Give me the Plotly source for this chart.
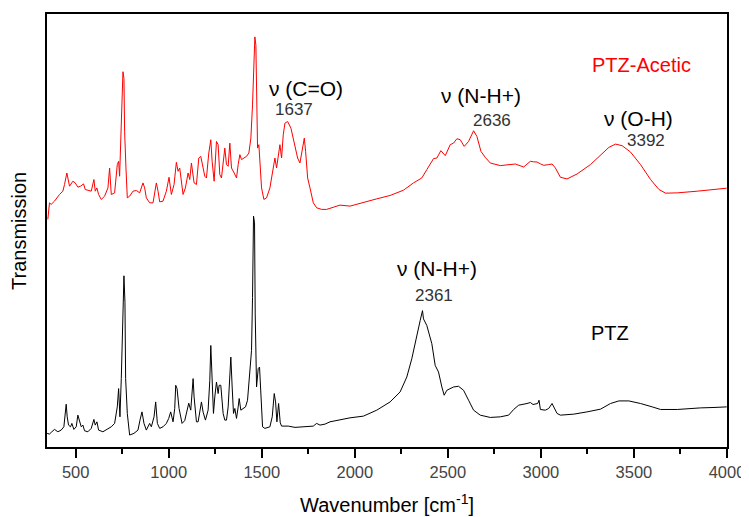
import plotly.graph_objects as go

# PTZ-Acetic spectrum (red, upper trace) — wavenumber [cm-1] and transmission (arb. units)
red_wn = [350.5, 359.4, 368.4, 386.3, 413.2, 431.2, 440.2, 452.7, 467.1, 485, 497.6, 511.9, 526.3,
          542.4, 551.4, 565.8, 583.7, 598.1, 605.2, 614.2, 623.2, 637.5, 655.5, 673.4, 682.4, 691.4,
          709.3, 723.7, 730.8, 736.2, 745.2, 754.2, 759.5, 763.1, 770.3, 777.5, 790, 808, 826, 843.9,
          861.8, 870.8, 879.8, 897.7, 915.7, 933.6, 942.6, 951.5, 969.5, 987.4, 1001.8, 1014.3, 1028.7,
          1041.2, 1050.2, 1059.2, 1077.1, 1089.7, 1104.1, 1113.1, 1122.1, 1136.4, 1149, 1161.6, 1172.3,
          1184.9, 1193.9, 1202.8, 1215.4, 1226.2, 1233.3, 1244.1, 1256.7, 1265.6, 1274.6, 1283.6, 1292.5,
          1301.5, 1310.5, 1319.5, 1328.5, 1337.4, 1351.8, 1364.3, 1373.3, 1382.3, 1391.2, 1405.6, 1418.2,
          1430.7, 1441.5, 1450.4, 1457.6, 1463, 1468.4, 1472, 1477.4, 1484.5, 1489.9, 1498.9, 1511.4,
          1525.8, 1543.8, 1561.7, 1570.7, 1579.6, 1588.6, 1597.6, 1606.5, 1615.5, 1624.5, 1638.9, 1656.8,
          1674.7, 1692.7, 1705.2, 1717.8, 1728.6, 1735.7, 1746.5, 1759.1, 1777, 1795, 1821.9, 1848.8,
          1866.7, 1920.6, 1974.4, 2046.2, 2117.9, 2189.7, 2261.5, 2315.3, 2360.2, 2387.1, 2423, 2440.9,
          2462.4, 2486, 2512.7, 2530.6, 2548.6, 2566.5, 2588, 2611.4, 2638.3, 2656.2, 2677.8, 2701.1,
          2728, 2781.8, 2835.7, 2862.6, 2907.4, 2925.4, 2943.3, 2961.2, 2979.2, 2997, 3015, 3042,
          3059.9, 3077.9, 3104.8, 3140.7, 3194.5, 3266.3, 3320.1, 3365, 3400.8, 3436.7, 3481.6, 3535.4,
          3589.3, 3634.1, 3670, 3732.8, 3840.5, 3930.2, 3998]
red_t = [228.7, 245.3, 243.7, 247, 253.7, 257, 263.7, 275.3, 262, 267, 265.3, 261, 262,
         264.3, 258.7, 257.7, 257, 268.7, 257, 260.3, 253.7, 248.7, 252, 260.3, 280.3, 253.7,
         255.3, 283.7, 287, 272, 323.7, 377, 370.3, 317, 280.3, 250.3, 252, 257, 257.7, 255.3,
         265.3, 260.3, 250.3, 245.3, 245.3, 265.3, 257, 246.3, 247, 257, 271, 253.7, 263.7,
         286, 277, 280.3, 253.7, 260.3, 275.3, 268.7, 285.3, 265.3, 263.7, 290.3, 292,
         280.3, 272, 270.3, 295.3, 308.7, 287, 267, 307, 303.7, 273.7, 270.3, 287,
         300.3, 283.7, 282, 305.3, 280.3, 275.3, 270.3, 283.7, 293.7, 288.7, 290.3, 292,
         295.3, 310.3, 343.7, 380.3, 412, 403.7, 350.3, 300.3, 303.7, 283.7, 260.3, 248.7,
         250.3, 260.3, 280.3, 290.3, 280.3, 290.3, 303.7, 290.3, 313.7, 325.3, 327, 320.3,
         303.7, 290.3, 285.3, 300.3, 310.3, 297, 270.3, 260.3, 245.3, 240.3, 238.7, 238.7,
         239.7, 243, 242, 246, 249.3, 252.7, 258, 265.3, 270.3, 278.7, 289.7, 290.3,
         297.7, 292.7, 303.7, 305.3, 309.7, 308.7, 302, 307, 317.7, 312, 297, 291,
         285.3, 282.7, 283.7, 284.3, 281.3, 283.7, 287, 286.5, 286.3, 284.5, 283, 283.7,
         284.3, 280.3, 271, 269.3, 274.3, 283.7, 292.7, 301, 304.3, 302.7, 296.3, 283.7,
         268.7, 258.7, 255, 255.3, 257, 258.7, 260]

# PTZ spectrum (black, lower trace)
blk_wn = [346.9, 359.4, 372, 386.3, 404.3, 422.2, 436.6, 443.7, 449.1, 454.5, 461.7, 472.5, 479.6,
          490.4, 503, 511.9, 520.9, 529.9, 538.9, 547.8, 565.8, 583.7, 598.1, 605.2, 614.2, 623.2,
          646.5, 673.4, 691.4, 709.3, 723.7, 730.8, 738, 745.2, 754.2, 759.5, 764.9, 768.5, 777.5,
          790, 813.4, 834.9, 845.7, 856.4, 867.2, 879.8, 897.7, 906.7, 921.2, 930, 939, 951.5, 969.5,
          987.4, 1000, 1010.7, 1023.3, 1032.3, 1037.7, 1044.8, 1055.6, 1071.8, 1086.1, 1100.6, 1107.7,
          1118.5, 1125.7, 1131.1, 1136.4, 1149, 1158, 1166.9, 1175.9, 1184.9, 1197.4, 1211.8, 1220.8,
          1226.2, 1233.3, 1240.5, 1247.7, 1256.7, 1265.6, 1271, 1279.9, 1287.2, 1292.5, 1301.5, 1310.5,
          1319.5, 1328.5, 1333.8, 1341, 1348.2, 1355.3, 1364.3, 1373.3, 1378.7, 1387.6, 1400.2, 1412.8,
          1423.5, 1436.1, 1445, 1450.4, 1455.8, 1461.2, 1464.8, 1472, 1480.9, 1488.1, 1495.3, 1504.3,
          1516.8, 1543.8, 1556.3, 1567.1, 1574.3, 1581.4, 1590.4, 1599.4, 1606.5, 1642.4, 1678.3, 1732.2,
          1777, 1794.9, 1812.9, 1839.8, 1866.7, 1974.4, 2046.2, 2117.9, 2189.7, 2243.5, 2279.4, 2306.3,
          2333.2, 2351.2, 2363.7, 2369.1, 2387.1, 2414, 2431.9, 2449.9, 2467.8, 2480.3, 2494.7, 2512.7,
          2530.6, 2557.5, 2584.4, 2611.3, 2638.2, 2674.1, 2728, 2781.8, 2826.7, 2853.6, 2880.5, 2925.3,
          2943.3, 2957.6, 2982.8, 2989.9, 2997.1, 3024, 3042, 3059.9, 3072.5, 3086.8, 3104.8, 3176.5,
          3248.3, 3320.1, 3374, 3418.8, 3472.6, 3535.4, 3598.2, 3643.1, 3732.8, 3822.5, 3858.4, 3930.2,
          3998.5]
blk_t = [13.7, 13, 15.3, 17.7, 15.3, 17, 20.3, 30.3, 43, 30.3, 22, 20.3, 23.7,
         17.7, 20.3, 32, 25.3, 20.3, 22, 16.3, 15.3, 18.7, 27.7, 22, 25.3, 17,
         15.3, 18.7, 20.3, 23.7, 40.3, 58.7, 30.3, 68.7, 120.3, 172, 145.3, 68.7, 33.7,
         12, 13.7, 17, 27, 35.3, 23.7, 17, 23.7, 20.3, 30.3, 45.3, 23.7, 18.7, 20.3,
         23.7, 28.7, 35.3, 25.3, 38.7, 62, 58.7, 38.7, 23.7, 26.5, 40.3, 44,
         37, 58.7, 68.7, 50.3, 25.3, 25.3, 37, 45.3, 35, 27, 37, 67,
         102, 67, 33.7, 50.3, 65.3, 53.7, 62, 62, 47, 33.7, 27, 27,
         40.3, 70.3, 90.3, 60.3, 33.7, 38.7, 28.7, 40.3, 48.7, 37, 38.7, 40.3,
         47, 72, 97, 150.3, 232, 225.3, 133.7, 60.3, 78.7, 80.3, 50.3, 20.3,
         18.7, 20.3, 30.3, 53.7, 45.3, 25.3, 43.7, 24.3, 21, 21, 19.7, 20.3,
         21, 23.7, 22, 23, 25.3, 29.3, 31, 37, 45.3, 55.3, 70.3, 88.7,
         113.7, 127, 137, 128.7, 122, 103.7, 82, 75.3, 60.3, 52, 57, 58.7,
         60.3, 61, 57, 47, 37, 32, 29.7, 30.3, 32, 37.7, 42, 43.7,
         44.7, 42.7, 43.7, 47, 37.7, 37, 38.7, 43.7, 38.7, 33.7, 32, 33,
         35.3, 38, 43.7, 46.3, 46.3, 43.7, 40.3, 37.7, 37.7, 39, 39.3, 39.7,
         40.3]

x_ticks = [500, 1000, 1500, 2000, 2500, 3000, 3500, 4000]
x_minor = [750, 1250, 1750, 2250, 2750, 3250, 3750]

FONT = "Liberation Sans, Arial, sans-serif"

fig = go.Figure()
fig.add_trace(go.Scatter(x=blk_wn, y=blk_t, mode="lines",
                         line=dict(color="#000000", width=1), showlegend=False))
fig.add_trace(go.Scatter(x=red_wn, y=red_t, mode="lines",
                         line=dict(color="#ff0000", width=1), showlegend=False))

ann = [
    dict(x=1736, y=360, text="ν (C=O)", size=21, color="#000000"),
    dict(x=1674, y=339, text="1637", size=17, color="#333333"),
    dict(x=2679, y=353, text="ν (N-H+)", size=21, color="#000000"),
    dict(x=2735, y=328, text="2636", size=17, color="#333333"),
    dict(x=3526, y=330, text="ν (O-H)", size=21, color="#000000"),
    dict(x=3564, y=308, text="3392", size=17, color="#333333"),
    dict(x=3542, y=384, text="PTZ-Acetic", size=20, color="#ff0000"),
    dict(x=2443, y=179, text="ν (N-H+)", size=21, color="#000000"),
    dict(x=2423, y=152, text="2361", size=17, color="#333333"),
    dict(x=3370, y=115, text="PTZ", size=20, color="#000000"),
]
for a in ann:
    fig.add_annotation(x=a["x"], y=a["y"], xref="x", yref="y", text=a["text"],
                       showarrow=False, xanchor="center", yanchor="middle",
                       font=dict(family=FONT, size=a["size"], color=a["color"]))

fig.add_annotation(x=0.4995, y=-0.131, xref="paper", yref="paper",
                   text="Wavenumber [cm<sup>-1</sup>]", showarrow=False,
                   xanchor="center", yanchor="middle",
                   font=dict(family=FONT, size=20, color="#000000"))
fig.add_annotation(x=-0.042, y=0.5, xref="paper", yref="paper",
                   text="Transmission", showarrow=False, textangle=-90,
                   xanchor="center", yanchor="middle",
                   font=dict(family=FONT, size=20, color="#000000"))

fig.update_xaxes(range=[346, 4000], tickvals=x_ticks, ticks="outside", ticklen=9,
                 tickwidth=1.5, tickcolor="#000000", showline=True, linewidth=2,
                 linecolor="#000000", mirror=True, showgrid=False, zeroline=False,
                 tickfont=dict(family=FONT, size=16.5, color="#444444"),
                 minor=dict(tickvals=x_minor, ticks="outside", ticklen=5,
                            tickwidth=1.5, tickcolor="#000000", showgrid=False))
fig.update_yaxes(range=[0, 435], showticklabels=False, ticks="", showline=True,
                 linewidth=2, linecolor="#000000", mirror=True, showgrid=False,
                 zeroline=False)

# the page body adds an 8px offset, so the figure is 8px smaller and margins shifted
fig.update_layout(width=741, height=509, margin=dict(l=39, r=22, t=4, b=70),
                  paper_bgcolor="#ffffff", plot_bgcolor="#ffffff",
                  font=dict(family=FONT))

fig.write_html("out.html")
